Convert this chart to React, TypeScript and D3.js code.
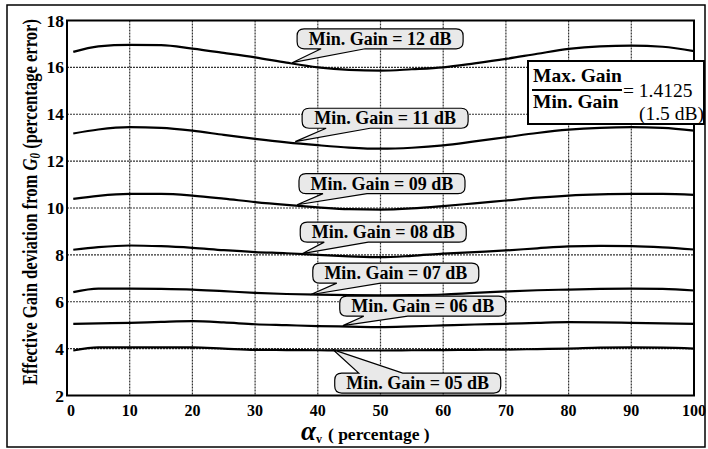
import { useEffect, useRef } from "react";
import * as d3 from "d3";

// alpha_v (percentage) sample positions shared by all curves
const alphaV = [1, 5, 10, 15, 20, 25, 30, 35, 40, 45, 50, 55, 60, 65, 70, 75, 80, 85, 90, 95, 100];

const gain12 = [16.66, 16.9, 16.96, 16.95, 16.8, 16.62, 16.43, 16.2, 16.0, 15.89, 15.86, 15.92, 16.0, 16.17, 16.36, 16.58, 16.79, 16.9, 16.93, 16.88, 16.69];
const gain11 = [13.18, 13.35, 13.45, 13.42, 13.3, 13.12, 12.95, 12.8, 12.68, 12.58, 12.53, 12.57, 12.67, 12.84, 13.02, 13.2, 13.34, 13.42, 13.45, 13.42, 13.3];
const gain09 = [10.39, 10.52, 10.6, 10.6, 10.53, 10.4, 10.25, 10.13, 10.03, 9.95, 9.93, 9.98, 10.08, 10.2, 10.32, 10.44, 10.53, 10.58, 10.6, 10.6, 10.56];
const gain08 = [8.22, 8.33, 8.4, 8.37, 8.3, 8.2, 8.12, 8.07, 8.0, 7.94, 7.9, 7.96, 8.05, 8.12, 8.19, 8.28, 8.36, 8.38, 8.37, 8.32, 8.23];
const gain07 = [6.41, 6.56, 6.56, 6.55, 6.52, 6.45, 6.38, 6.33, 6.3, 6.28, 6.27, 6.28, 6.31, 6.38, 6.44, 6.49, 6.52, 6.55, 6.56, 6.55, 6.48];
const gain06 = [5.06, 5.08, 5.1, 5.14, 5.17, 5.12, 5.04, 5.0, 4.96, 4.94, 4.92, 4.95, 4.99, 5.03, 5.06, 5.1, 5.13, 5.12, 5.1, 5.08, 5.06];
const gain05 = [3.92, 4.05, 4.05, 4.05, 4.05, 4.0, 3.95, 3.94, 3.93, 3.92, 3.92, 3.93, 3.94, 3.95, 3.96, 3.98, 4.0, 4.04, 4.05, 4.04, 4.0];

const series = [gain12, gain11, gain09, gain08, gain07, gain06, gain05];

const xTicks = [0, 10, 20, 30, 40, 50, 60, 70, 80, 90, 100];
const yTicks = [2, 4, 6, 8, 10, 12, 14, 16, 18];

// callouts: label, box left (alpha), box centre (value), tip (alpha, value)
const calloutLabels = ["Min. Gain = 12 dB", "Min. Gain = 11 dB", "Min. Gain = 09 dB", "Min. Gain = 08 dB", "Min. Gain = 07 dB", "Min. Gain = 06 dB", "Min. Gain = 05 dB"];
const calloutBoxX = [36.7, 37.5, 37.0, 37.2, 39.2, 43.5, 42.7];
const calloutBoxY = [17.22, 13.83, 11.04, 8.97, 7.22, 5.81, 2.53];
const calloutTipX = [35.9, 36.4, 36.7, 37.5, 38.8, 44.0, 42.4];
const calloutTipY = [16.2, 12.83, 10.14, 8.05, 6.3, 4.98, 3.96];

const W = 708;
const H = 449;
const FONT = "'Liberation Serif', 'Times New Roman', serif";

export default function App() {
  const ref = useRef<SVGSVGElement>(null);

  useEffect(() => {
    const svg = d3.select(ref.current);
    svg.selectAll("*").remove();

    const x = d3.scaleLinear().domain([0, 100]).range([67, 694]);
    const y = d3.scaleLinear().domain([2, 18]).range([395.5, 20.5]);

    svg.append("rect").attr("width", W).attr("height", H).attr("fill", "#fff");

    // outer figure border
    svg
      .append("rect")
      .attr("x", 7)
      .attr("y", 5)
      .attr("width", 698)
      .attr("height", 442)
      .attr("fill", "none")
      .attr("stroke", "#000")
      .attr("stroke-width", 1.5);

    // grid
    const grid = svg.append("g").attr("stroke", "#333").attr("stroke-width", 1.2).attr("stroke-dasharray", "2,1");
    grid
      .selectAll("line.v")
      .data(xTicks.slice(1, -1))
      .join("line")
      .attr("x1", (d) => x(d))
      .attr("x2", (d) => x(d))
      .attr("y1", y(18))
      .attr("y2", y(2));
    grid
      .selectAll("line.h")
      .data(yTicks.slice(1, -1))
      .join("line")
      .attr("class", "h")
      .attr("x1", x(0))
      .attr("x2", x(100))
      .attr("y1", (d) => y(d))
      .attr("y2", (d) => y(d));

    // curves
    const line = d3
      .line<number>()
      .x((_, i) => x(alphaV[i]))
      .y((d) => y(d))
      .curve(d3.curveMonotoneX);

    svg
      .append("g")
      .selectAll("path")
      .data(series)
      .join("path")
      .attr("fill", "none")
      .attr("stroke", "#000")
      .attr("stroke-width", 2.2)
      .attr("d", (d) => line(d));

    // plot frame
    svg
      .append("rect")
      .attr("x", x(0))
      .attr("y", y(18))
      .attr("width", x(100) - x(0))
      .attr("height", y(2) - y(18))
      .attr("fill", "none")
      .attr("stroke", "#000")
      .attr("stroke-width", 2);

    // tick labels
    svg
      .append("g")
      .selectAll("text")
      .data(yTicks)
      .join("text")
      .attr("x", 64)
      .attr("y", (d) => y(d) + 6)
      .attr("text-anchor", "end")
      .style("font-family", FONT)
      .style("font-weight", "bold")
      .style("font-size", "17.5px")
      .text((d) => d);

    svg
      .append("g")
      .selectAll("text")
      .data(xTicks)
      .join("text")
      .attr("x", (d) => x(d) + (d === 0 ? 4 : 0))
      .attr("y", 416)
      .attr("text-anchor", "middle")
      .style("font-family", FONT)
      .style("font-weight", "bold")
      .style("font-size", "16px")
      .text((d) => d);

    // x axis title
    const xt = svg
      .append("text")
      .attr("x", 301)
      .attr("y", 440)
      .style("font-family", FONT)
      .style("font-weight", "bold")
      .style("font-size", "17px");
    xt.append("tspan").style("font-style", "italic").style("font-size", "27px").text("α");
    xt.append("tspan").attr("dy", 3).style("font-size", "12px").text("v");
    xt.append("tspan").attr("dy", -3).attr("dx", 6).style("font-size", "17.5px").text("( percentage )");

    // y axis title (glyphs are stretched in the original)
    const yt = svg
      .append("text")
      .attr("transform", "translate(36.5,202) rotate(-90) scale(1,1.3)")
      .attr("text-anchor", "middle")
      .style("font-family", FONT)
      .style("font-weight", "bold")
      .style("font-size", "16.6px");
    yt.append("tspan").text("Effective Gain deviation from ");
    yt.append("tspan").style("font-style", "italic").text("G");
    yt.append("tspan").attr("dy", 3).style("font-style", "italic").style("font-size", "11px").text("0");
    yt.append("tspan").attr("dy", -3).text(" (percentage error)");

    // callouts
    const bw = 166;
    const bh = 20;
    const r = 7;
    const c = svg.append("g");
    calloutLabels.forEach((label, i) => {
      const L = x(calloutBoxX[i]);
      const cy = y(calloutBoxY[i]);
      const T = cy - bh / 2;
      const B = cy + bh / 2;
      const R = L + bw;
      const tx = x(calloutTipX[i]);
      const ty = y(calloutTipY[i]);
      const b1 = L + 24;
      const b2 = L + 68;
      let p: string;
      if (ty > cy) {
        p = `M${L + r},${T}H${R - r}Q${R},${T} ${R},${T + r}V${B - r}Q${R},${B} ${R - r},${B}H${b2}L${tx},${ty}L${b1},${B}H${L + r}Q${L},${B} ${L},${B - r}V${T + r}Q${L},${T} ${L + r},${T}Z`;
      } else {
        p = `M${L + r},${T}H${b1}L${tx},${ty}L${b2},${T}H${R - r}Q${R},${T} ${R},${T + r}V${B - r}Q${R},${B} ${R - r},${B}H${L + r}Q${L},${B} ${L},${B - r}V${T + r}Q${L},${T} ${L + r},${T}Z`;
      }
      c.append("path").attr("d", p).attr("fill", "#e9e9e9").attr("stroke", "#000").attr("stroke-width", 1.2);
      c.append("text")
        .attr("x", L + bw / 2)
        .attr("y", cy + 6)
        .attr("text-anchor", "middle")
        .style("font-family", FONT)
        .style("font-weight", "bold")
        .style("font-size", "18px")
        .text(label);
    });

    // ratio box
    const lg = svg.append("g");
    lg.append("rect")
      .attr("x", 528)
      .attr("y", 61)
      .attr("width", 176)
      .attr("height", 63)
      .attr("fill", "#fff")
      .attr("stroke", "#000")
      .attr("stroke-width", 2);
    lg.append("text")
      .attr("x", 533)
      .attr("y", 82)
      .style("font-family", FONT)
      .style("font-weight", "bold")
      .style("font-size", "19.5px")
      .text("Max. Gain");
    lg.append("line").attr("x1", 532).attr("x2", 622).attr("y1", 90).attr("y2", 90).attr("stroke", "#000").attr("stroke-width", 2);
    lg.append("text")
      .attr("x", 533)
      .attr("y", 108)
      .style("font-family", FONT)
      .style("font-weight", "bold")
      .style("font-size", "19.5px")
      .text("Min. Gain");
    lg.append("text")
      .attr("x", 623)
      .attr("y", 97)
      .style("font-family", FONT)
      .style("font-size", "19.5px")
      .text("= 1.4125");
    lg.append("text")
      .attr("x", 639)
      .attr("y", 120)
      .style("font-family", FONT)
      .style("font-size", "19.5px")
      .text("(1.5 dB)");
  }, []);

  return <svg ref={ref} width={W} height={H} style={{ position: "absolute", left: 0, top: 0 }} />;
}
